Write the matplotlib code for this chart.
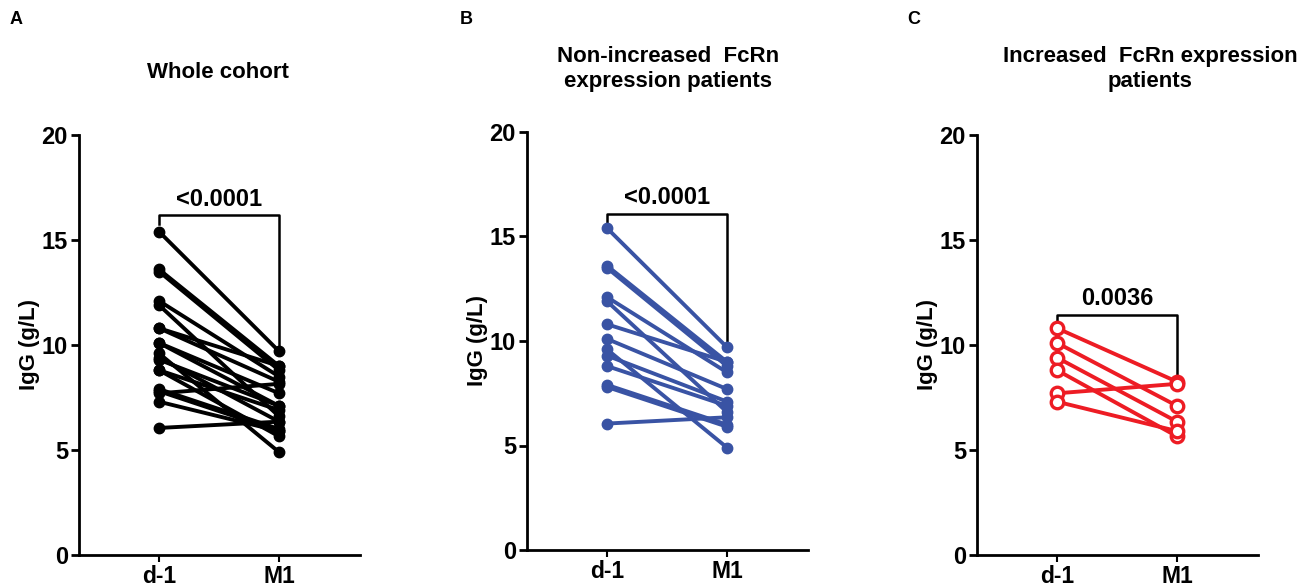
import matplotlib
matplotlib.use('Agg')
import matplotlib.pyplot as plt

plt.rcParams['font.family'] = ['Liberation Sans', 'DejaVu Sans']
plt.rcParams['font.weight'] = 'bold'

TIMEPOINTS = ['d-1', 'M1']
Y_TICKS = [0, 5, 10, 15, 20]

# non-increased FcRn expression patients
nonincr_d1 = [15.4, 13.6, 13.5, 12.1, 11.9, 10.8, 10.1, 9.6, 9.3, 8.8, 7.9, 7.8, 6.05]
nonincr_m1 = [9.7, 9.0, 8.8, 8.5, 6.6, 9.0, 7.7, 4.9, 7.1, 6.9, 6.0, 5.9, 6.35]

# increased FcRn expression patients
incr_d1 = [10.8, 10.1, 9.4, 8.8, 7.7, 7.3]
incr_m1 = [8.25, 7.1, 6.35, 5.65, 8.15, 5.9]

# whole cohort = both groups
whole_d1 = nonincr_d1 + incr_d1
whole_m1 = nonincr_m1 + incr_m1

P_VALUES = ['<0.0001', '<0.0001', '0.0036']
TITLES = ['Whole cohort', 'Non-increased  FcRn\nexpression patients',
          'Increased  FcRn expression\npatients']
LETTERS = ['A', 'B', 'C']

W, H = 1306, 588
fig = plt.figure(figsize=(W / 100, H / 100), dpi=100)


def px_axes(left, right, top, bottom):
    return fig.add_axes([left / W, (H - bottom) / H, (right - left) / W, (bottom - top) / H])


def draw_panel(ax, d1, m1, color, open_marker, pval, bracket_y, left_drop, right_drop):
    for a, b in zip(d1, m1):
        ax.plot([0, 1], [a, b], color=color, lw=2.8, marker='o',
                ms=9 if open_marker else 7.5,
                mfc='white' if open_marker else color,
                mec=color, mew=2.4 if open_marker else 1, clip_on=False, zorder=3)
    # significance bracket
    ax.plot([0, 0, 1, 1], [left_drop, bracket_y, bracket_y, right_drop],
            color='black', lw=1.8, clip_on=False, zorder=2)
    ax.text(0.5, bracket_y + 0.2, pval, ha='center', va='bottom',
            fontsize=17, fontweight='bold')

    ax.set_xlim(-0.667, 1.675)
    ax.set_ylim(0, 20)
    ax.set_xticks([0, 1], TIMEPOINTS)
    ax.set_yticks(Y_TICKS)
    for s in ['top', 'right']:
        ax.spines[s].set_visible(False)
    for s in ['left', 'bottom']:
        ax.spines[s].set_linewidth(2)
    ax.tick_params(axis='y', length=6, width=2, labelsize=17, pad=2)
    ax.tick_params(axis='x', length=5, width=1.5, labelsize=16.5, pad=2)
    for lab in ax.get_xticklabels() + ax.get_yticklabels():
        lab.set_fontweight('bold')
    ax.text(-49 / 281, 0.5, 'IgG (g/L)', rotation=90, ha='center', va='center',
            transform=ax.transAxes, fontsize=16, fontweight='bold')


axA = px_axes(79, 360, 135, 555)
draw_panel(axA, whole_d1, whole_m1, 'black', False, P_VALUES[0], 16.2, 15.75, 10.0)

axB = px_axes(527, 808, 132, 550)
draw_panel(axB, nonincr_d1, nonincr_m1, '#3953a4', False, P_VALUES[1], 16.1, 15.7, 9.95)

axC = px_axes(977, 1258, 135, 555)
draw_panel(axC, incr_d1, incr_m1, '#ed1c24', True, P_VALUES[2], 11.45, 11.1, 8.4)

# titles and panel letters
title_pos = [(218, 72), (668, 69), (1150, 69)]
for (x, y), t in zip(title_pos, TITLES):
    fig.text(x / W, 1 - y / H, t, ha='center', va='center', fontsize=16,
             fontweight='bold', linespacing=1.25)

for x, l in zip([16, 466, 914], LETTERS):
    fig.text(x / W, 1 - 20 / H, l, ha='center', va='center', fontsize=13, fontweight='bold')

fig.savefig('out.png', dpi=100)
